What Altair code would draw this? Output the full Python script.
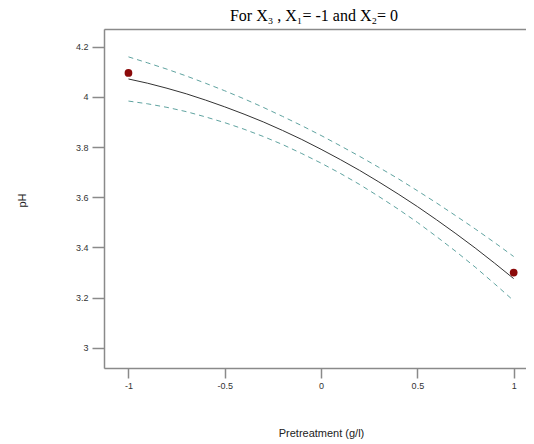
import altair as alt
import pandas as pd

# Pretreatment (coded) grid
x_vals = [-1.0, -0.9, -0.8, -0.7, -0.6, -0.5, -0.4, -0.3, -0.2, -0.1, 0.0,
          0.1, 0.2, 0.3, 0.4, 0.5, 0.6, 0.7, 0.8, 0.9, 1.0]
# predicted pH
fit = [4.071, 4.054, 4.034, 4.012, 3.987, 3.960, 3.931, 3.900, 3.866, 3.830, 3.791,
       3.750, 3.707, 3.661, 3.613, 3.563, 3.510, 3.455, 3.398, 3.338, 3.276]
# confidence band
upper = [4.159, 4.135, 4.110, 4.083, 4.054, 4.024, 3.992, 3.958, 3.922, 3.885, 3.846,
         3.805, 3.763, 3.719, 3.674, 3.626, 3.577, 3.526, 3.474, 3.420, 3.364]
lower = [3.983, 3.972, 3.958, 3.941, 3.920, 3.897, 3.871, 3.842, 3.810, 3.774, 3.736,
         3.695, 3.651, 3.603, 3.553, 3.500, 3.443, 3.384, 3.322, 3.256, 3.188]
# design points
design_x = [-1, 1]
design_ph = [4.095, 3.30]

x_ticks = [-1, -0.5, 0, 0.5, 1]
y_ticks = [3, 3.2, 3.4, 3.6, 3.8, 4, 4.2]

df = pd.DataFrame({"x": x_vals, "fit": fit, "upper": upper, "lower": lower})
band = df.melt("x", ["upper", "lower"], var_name="band", value_name="ph")
pts = pd.DataFrame({"x": design_x, "ph": design_ph})

xscale = alt.Scale(domain=[-1.127, 1.064], nice=False, zero=False)
yscale = alt.Scale(domain=[2.92, 4.27], nice=False, zero=False)

GRAY = "#8a8a8a"

x_axis = alt.Axis(
    values=x_ticks, labelExpr="toString(datum.value)", grid=False,
    domainColor=GRAY, domainWidth=1.5, tickColor=GRAY, tickWidth=1.5, tickSize=10,
    labelFont="Liberation Sans", labelFontSize=9, labelColor="#333333", labelPadding=3,
    title="Pretreatment (g/l)", titleFont="Liberation Sans", titleFontSize=11,
    titleFontWeight="normal", titleColor="#222222", titleX=217, titleY=65,
    titleAlign="center", titleBaseline="middle",
)
y_axis = alt.Axis(
    values=y_ticks, labelExpr="toString(datum.value)", grid=False,
    domainColor=GRAY, domainWidth=1.5, tickColor=GRAY, tickWidth=1.5, tickSize=12,
    labelFont="Liberation Sans", labelFontSize=9, labelColor="#333333", labelPadding=4,
    title="pH", titleFont="Liberation Sans", titleFontSize=11, titleFontWeight="normal",
    titleColor="#222222", titleX=-82, titleY=171, titleAngle=-90,
    titleAlign="center", titleBaseline="middle",
)

bands = alt.Chart(band).mark_line(
    color="#5fa3a0", strokeWidth=1, strokeDash=[5, 4]
).encode(
    x=alt.X("x:Q", scale=xscale, axis=None),
    y=alt.Y("ph:Q", scale=yscale, axis=None),
    detail="band:N",
)

fit_line = alt.Chart(df).mark_line(color="#333333", strokeWidth=1).encode(
    x=alt.X("x:Q", scale=xscale, axis=x_axis),
    y=alt.Y("fit:Q", scale=yscale, axis=y_axis),
)

top_frame = alt.Chart(df).mark_line(opacity=0).encode(
    x=alt.X("x:Q", scale=xscale, axis=alt.Axis(orient="top", labels=False, ticks=False,
                                                 grid=False, title=None,
                                                 domainColor=GRAY, domainWidth=1.5)),
    y=alt.Y("fit:Q", scale=yscale, axis=None),
)

points = alt.Chart(pts).mark_point(
    shape="circle", filled=True, color="#8b0a0a", size=60, opacity=1
).encode(
    x=alt.X("x:Q", scale=xscale, axis=None),
    y=alt.Y("ph:Q", scale=yscale, axis=None),
)

chart = alt.layer(top_frame, bands, fit_line, points).resolve_axis(
    x="independent", y="independent"
).properties(
    width=422,
    height=339,
    autosize=alt.AutoSizeParams(type="none"),
    padding={"left": 96, "top": 21, "right": 0, "bottom": 72},
    title=alt.Title(
        "For X₃ , X₁= -1 and X₂= 0", font="Liberation Serif", fontSize=16,
        fontWeight="normal", color="black", anchor="middle", frame="group",
        baseline="alphabetic", offset=8, dx=-1, dy=16,
    ),
).configure_view(stroke=None).configure(background="white")

chart.save("out.html", embed_options={"renderer": "svg", "actions": False})
